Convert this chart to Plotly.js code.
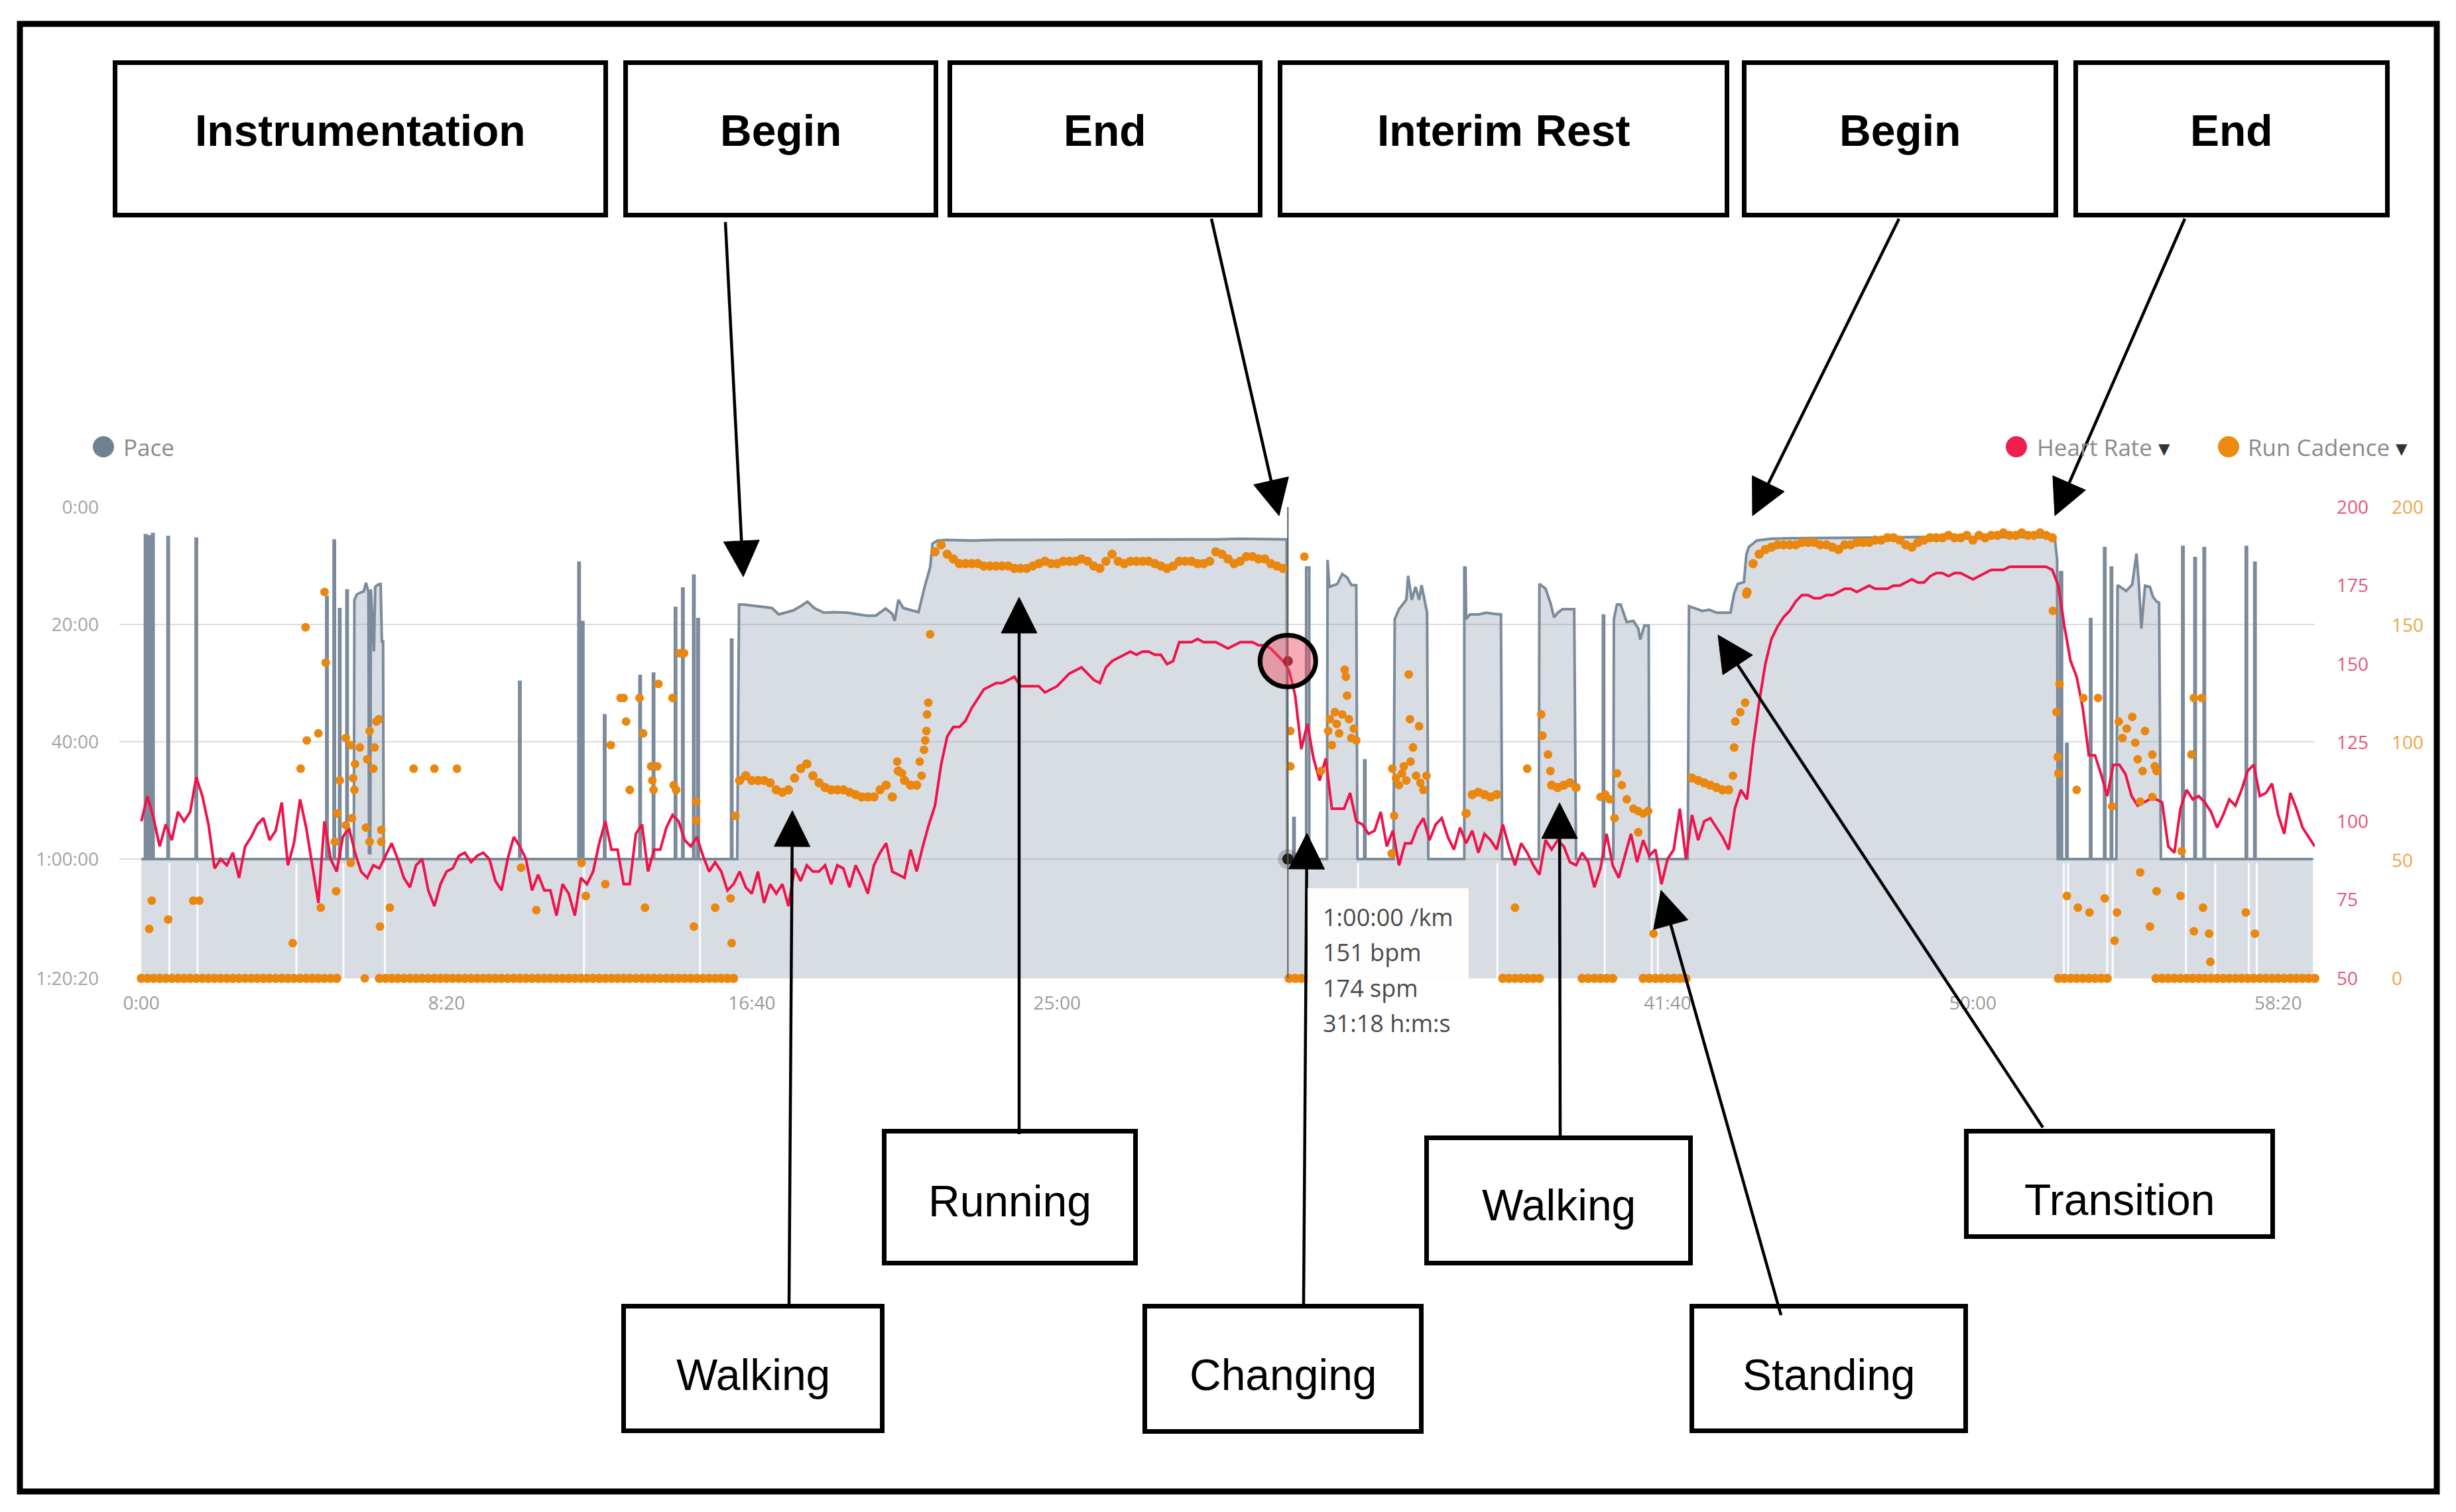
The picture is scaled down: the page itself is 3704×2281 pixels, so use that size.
<!DOCTYPE html>
<html><head><meta charset="utf-8">
<script src="https://cdn.plot.ly/plotly-3.0.1.min.js"></script>
<style>html,body{margin:0;padding:0;background:#fff}#chart{width:3704px;height:2281px}</style>
</head><body><div id="chart"></div>
<script>
// ---------------- DATA ----------------
// Heart rate (bpm), one sample every 10 s from 0:00
const hrStepSec = 10;
const hrBpm = [
100,108,101,92,99,94,103,100,103,114,108,99,85,88,86,90,82,92,95,99,101,94,97,106,86,93,107,98,86,74,
100,88,84,95,98,90,84,82,86,85,89,93,88,82,79,86,88,78,73,80,84,85,89,90,87,89,90,88,81,78,
88,95,92,88,78,83,78,78,70,80,77,70,82,80,84,93,100,91,91,80,80,96,99,84,91,91,98,102,100,94,
92,95,89,84,87,84,78,80,84,79,77,84,74,80,77,80,73,85,81,86,84,84,86,80,86,85,79,86,82,77,
86,90,93,84,83,82,91,84,92,99,105,118,127,130,130,132,136,139,142,143,144,144,145,146,143,143,143,143,141,142,
143,145,147,148,149,147,145,144,149,151,152,153,154,153,154,154,153,153,150,151,157,157,157,158,157,157,157,156,155,156,
157,157,157,156,156,155,153,151,148,140,123,131,120,113,120,104,104,104,109,100,99,96,97,103,92,97,86,93,93,98,
101,94,99,101,95,91,98,93,97,90,96,94,91,99,92,86,93,90,86,83,94,91,94,92,87,86,90,87,79,85,
96,86,82,89,96,87,94,89,91,80,88,91,104,88,102,94,100,101,98,95,91,104,110,107,124,138,150,158,162,165,
167,170,172,172,171,171,172,172,173,174,174,173,174,175,174,174,174,175,175,176,177,176,176,178,179,179,178,179,179,178,
177,178,179,180,180,180,181,181,181,181,181,181,181,180,175,162,151,146,136,121,121,115,108,118,118,115,108,105,106,107,
107,106,92,90,104,110,107,108,106,103,98,102,107,105,110,116,118,108,109,112,102,96,109,104,98,95,92
];
// Run cadence (spm), one sample every 10 s (null = no reading)
const cadStepSec = 10;
const cadSpm = [
0,0,0,0,0,0,0,0,0,0,0,0,0,0,0,0,0,0,0,0,0,0,0,0,0,0,0,0,0,0,
0,0,0,null,null,null,null,null,null,0,0,0,0,0,0,0,0,0,0,0,0,0,0,0,0,0,0,0,0,0,
0,0,0,0,0,0,0,0,0,0,0,0,0,0,0,0,0,0,0,0,0,0,0,0,0,0,0,0,0,0,
0,0,0,0,0,0,0,0,84,86,84,84,84,83,80,79,80,85,89,91,86,83,81,80,80,80,79,78,77,77,
77,80,82,77,88,84,82,82,null,null,181,184,180,178,176,176,176,176,175,175,175,175,175,174,174,174,175,176,177,176,
176,177,177,177,178,177,175,174,177,180,177,176,177,177,177,177,176,175,174,175,177,177,177,176,176,177,181,180,178,176,
177,179,179,178,178,176,175,174,0,0,0,0,null,null,null,null,null,null,null,null,null,null,null,null,null,null,null,null,null,null,
null,null,null,null,null,null,null,70,78,79,78,77,78,0,0,0,0,0,0,0,null,82,81,82,83,81,0,0,0,0,
0,0,null,null,null,null,0,0,0,0,0,0,0,0,85,84,83,82,81,80,80,null,null,164,176,180,182,183,184,184,
184,184,185,185,185,184,184,183,182,184,184,185,185,185,186,186,187,187,186,184,183,185,186,187,187,187,188,187,187,188,
186,188,187,188,188,189,188,188,189,188,188,189,188,187,0,0,0,0,0,0,0,0,0,null,null,null,null,null,null,null,
0,0,0,0,0,0,0,0,0,0,0,0,0,0,0,0,0,0,0,0,0,0,0,0,0,0,0
];
// Scattered cadence readings (time s, spm)
const cadScatT = [13,17,44,85,95,248,261,269,271,290,294,300,302,317,319,321,325,335,335,343,343,345,347,349,350,358,366,368,370,374,374,380,382,385,389,391,393,393,407,446,480,517,
622,647,721,728,760,769,785,790,794,800,816,822,825,835,837,839,845,847,870,872,876,882,889,905,909,909,940,965,967,973,
1238,1246,1275,1278,1282,1284,1286,1287,1289,1292,
1882,1882,1905,1932,1944,1947,1950,1955,1958,1962,1967,1971,1973,1975,1978,1982,1986,1990,2048,2049,2052,2055,2060,2065,2068,2072,2076,2078,2079,2083,2088,2093,2095,2100,2105,2250,2270,2293,2295,2304,2308,
2390,2398,2405,2413,2417,2425,2433,2444,2452,2452,2460,2468,2477,2607,2609,2611,2619,2627,2629,
3131,3137,3139,3140,3142,3154,3170,3172,3181,3191,3205,3216,3228,3232,3236,3239,3245,3252,3261,3266,3270,3274,3274,3278,3282,3290,3294,3294,3298,3301,3301,3340,3342,3358,3362,3362,3375,3377,3387,3389,3447,3462];
const cadScatV = [21,33,25,33,33,15,89,149,101,104,30,164,134,58,37,70,84,102,65,99,49,68,85,80,91,98,0,64,93,105,58,89,98,109,110,22,63,58,30,89,89,89,
47,29,49,35,40,99,119,119,109,80,119,104,30,90,84,80,90,125,119,82,80,138,138,22,75,67,30,34,15,69,
92,87,92,86,97,101,105,112,117,146,
105,90,179,88,105,110,99,113,108,104,112,131,128,120,110,102,106,101,53,89,69,85,82,87,90,84,129,110,92,98,86,107,83,80,86,30,89,112,103,95,88,
77,78,76,68,87,82,76,72,71,62,70,71,19,86,98,109,113,117,163,
156,113,94,87,125,35,80,30,119,28,119,34,73,16,28,109,102,106,111,100,93,75,45,88,105,22,95,77,90,88,37,35,54,95,20,119,119,30,19,7,28,19];
// Pace (time s, min/km); 60 = stopped
const paceT = [0,6,6,8,8,10,10,12,12,14,14,16,16,18,18,20,20,43,43,45,45,89,89,91,91,
303,303,305,305,315,315,317,317,324,324,326,326,336,336,338,338,
348,349,353,358,364,368,372,373,375,376,381,383,388,392,394,396,397,
619,619,621,621,716,716,718,718,722,722,724,724,758,758,760,760,816,816,818,818,838,838,840,840,
874,874,876,876,886,886,888,888,904,904,906,906,911,911,913,913,966,966,968,968,
976,979,986,1000,1010,1020,1033,1044,1056,1068,1080,1091,1102,1118,1135,1157,1175,1188,1203,1219,1230,1234,1240,1248,1262,1273,1283,1292,1296,1304,
1320,1360,1400,1440,1480,1520,1560,1600,1640,1680,1720,1760,1800,1840,1876,1877,
1887,1887,1889,1889,1908,1908,1913,1913,
1942,1943,1946,1959,1967,1975,1982,1990,1992,2003,2003,2005,2005,
2051,2053,2060,2072,2075,2081,2087,2093,2097,2106,2108,
2167,2167,2169,2170,2176,2190,2203,2215,2227,2229,
2289,2290,2300,2308,2314,2320,2328,2347,2350,2394,2394,2396,2396,
2411,2412,2417,2423,2433,2444,2452,2455,2462,2469,2470,
2533,2535,2545,2557,2568,2580,2603,2609,2615,2625,2629,2633,2646,2669,2700,2750,2800,2850,2900,2950,3000,3050,3100,3134,3138,3139,
3143,3143,3146,3146,3153,3153,3155,3155,3192,3192,3194,3194,3215,3215,3217,3217,3226,3226,3228,3228,
3235,3237,3251,3261,3268,3272,3276,3282,3290,3295,3301,3305,3308,
3343,3343,3345,3345,3363,3363,3365,3365,3378,3378,3380,3380,3447,3447,3449,3449,3461,3461,3463,3463,3557];
const paceV = [60,60,4.8,4.8,60,60,5.0,5.0,60,60,5.0,5.0,60,60,4.6,4.6,60,60,5.1,5.1,60,60,5.4,5.4,60,
60,15.3,15.3,60,60,5.7,5.7,60,60,17.4,17.4,60,60,14.2,14.2,60,
60,15.8,14.9,14.6,14.4,12.9,14.5,59,59,14.0,24.6,13.6,13.2,13.1,22.9,22.9,60,
60,29.8,29.8,60,60,9.5,9.5,60,60,19.6,19.6,60,60,35.5,35.5,60,60,28.8,28.8,60,60,28.4,28.4,60,
60,17.2,17.2,60,60,13.9,13.9,60,60,11.7,11.7,60,60,19.1,19.1,60,60,22.6,22.6,60,
60,16.6,16.6,16.8,16.9,17.0,17.2,18.3,17.9,17.6,16.9,16.1,17.2,18.0,17.9,18.0,18.3,18.5,18.5,17.3,18.2,19.4,15.8,17.2,17.6,17.9,13.6,10.3,6.2,5.7,
5.6,5.7,5.6,5.6,5.5,5.6,5.6,5.5,5.6,5.6,5.5,5.5,5.4,5.5,5.5,60,
60,53,53,60,60,10.3,10.3,60,
60,9.0,13.6,13.1,11.4,12.0,13.3,13.3,60,60,43.2,43.2,60,
60,19.1,17.4,15.8,11.7,15.8,13.6,15.8,13.3,18.0,60,
60,10.3,10.3,19.1,18.3,18.3,18.0,18.2,18.3,60,
60,13.1,13.9,16.3,18.8,18.0,17.4,17.4,60,60,18.5,18.5,60,
60,19.1,16.6,16.6,19.6,19.4,20.7,22.6,20.2,20.2,60,
60,16.9,17.3,17.7,17.5,18.0,18.0,14.7,13.1,12.8,8.1,6.8,5.7,5.4,5.3,5.3,5.2,5.2,5.1,5.1,5.0,5.0,5.0,5.1,9,60,
60,11.1,11.1,60,60,40.4,40.4,60,60,19.1,19.1,60,60,7.0,7.0,60,60,10.3,10.3,60,
60,13.3,14.3,13.2,7.9,13.3,20.7,13.4,13.6,15.3,16.1,16.3,60,
60,6.8,6.8,60,60,8.7,8.7,60,60,7.0,7.0,60,60,6.8,6.8,60,60,9.5,9.5,60,60];
// Gaps in the pace record (time s)
const gapT = [46,92,254,331,399,725,915,1993,2221,2397,2474,2484,3149,3156,3220,3229,3349,3397,3452,3465];
const paceFloor = 80.333;
// Hovered sample
const hoverT = 1878, hoverPace = 60, hoverHr = 151, hoverCad = 174;
const hoverLines = ['1:00:00 /km', '151 bpm', '174 spm', '31:18 h:m:s'];
// Axes (the 33:20 label sits under the tooltip, so it is not shown)
const xTickVals = [0,500,1000,1500,2500,3000,3500];
const xTickText = ['0:00','8:20','16:40','25:00','41:40','50:00','58:20'];
const paceTickVals = [0,20,40,60,80.333];
const paceTickText = ['0:00','20:00','40:00','1:00:00','1:20:20'];
const hrTickVals = [50,75,100,125,150,175,200];
const cadTickVals = [0,50,100,150,200];
// Annotation labels
const topLabels = ['Instrumentation','Begin','End','Interim Rest','Begin','End'];
const bottomLabels = ['Walking','Running','Changing','Walking','Standing','Transition'];
const legendLabels = ['Pace','Heart Rate','Run Cadence'];

// ---------------- LAYOUT GEOMETRY (pixels) ----------------
const PL = 180, PR = 3600, PT = 765, PB = 1476;
const px = X => (X - PL) / (PR - PL);
const py = Y => (PB - Y) / (PB - PT);
const topBoxes = [[170,91,917,328],[940,91,1415,328],[1429,91,1904,328],[1927,91,2608,328],[2627,91,3104,328],[3127,91,3604,328]];
const topTextY = 197;
const bottomBoxes = [[937,1967,1334,2162],[1330,1703,1716,1909],[1723,1967,2147,2163],[2148,1713,2553,1909],[2548,1967,2968,2162],[2962,1703,3431,1869]];
const bottomTextY = [2074,1812,2074,1818,2074,1810];
const arrowsPx = [[1094,335,1121,870],[1827,330,1929,778],[2864,330,2643,778],[3295,330,3099,778],
  [1190,1967,1195,1223],[1537,1711,1537,901],[1966,1967,1971,1257],[2353,1713,2352,1211],[2686,1984,2505,1343],[3081,1701,2591,958]];

const shapes = [], annotations = [];
const BW = 7;
function box(b){
  shapes.push({type:'rect', xref:'paper', yref:'paper', x0:px(b[0]+BW/2), x1:px(b[2]-BW/2), y0:py(b[1]+BW/2), y1:py(b[3]-BW/2),
    line:{color:'#000', width:BW}, fillcolor:'#fff', layer:'above'});
}
function label(text, X, Y, bold){
  annotations.push({text: bold ? '<b>'+text+'</b>' : text, xref:'paper', yref:'paper', x:px(X), y:py(Y), showarrow:false,
    xanchor:'center', yanchor:'middle', font:{family:'Liberation Sans, Arial, sans-serif', size:66, color:'#000'}});
}
function arrow(a){
  const [x0,y0,x1,y1] = a;
  const dx=x1-x0, dy=y1-y0, len=Math.hypot(dx,dy), ux=dx/len, uy=dy/len;
  const hl=54, hw=27;
  const bx=x1-ux*hl, by=y1-uy*hl;
  const c1x=bx-uy*hw, c1y=by+ux*hw, c2x=bx+uy*hw, c2y=by-ux*hw;
  shapes.push({type:'line', xref:'paper', yref:'paper', x0:px(x0), y0:py(y0), x1:px(bx), y1:py(by), line:{color:'#000', width:4.5}, layer:'above'});
  shapes.push({type:'path', xref:'paper', yref:'paper', path:'M'+px(x1)+','+py(y1)+' L'+px(c1x)+','+py(c1y)+' L'+px(c2x)+','+py(c2y)+' Z',
    fillcolor:'#000', line:{color:'#000', width:1}, layer:'above'});
}
// outer frame
shapes.push({type:'rect', xref:'paper', yref:'paper', x0:px(30), x1:px(3675), y0:py(36), y1:py(2250), line:{color:'#000', width:9}, fillcolor:'rgba(0,0,0,0)', layer:'above'});
// crosshair
shapes.push({type:'line', xref:'x', yref:'paper', x0:hoverT, x1:hoverT, y0:0, y1:1, line:{color:'#5a5a5a', width:2}, layer:'above'});
// highlight ring around hovered heart-rate point
shapes.push({type:'circle', xref:'x', yref:'y2', xsizemode:'pixel', ysizemode:'pixel', xanchor:hoverT, yanchor:hoverHr,
  x0:-42, x1:42, y0:-39, y1:39, line:{color:'#000', width:7}, fillcolor:'rgba(240,70,95,0.45)', layer:'above'});
topBoxes.forEach((b,i)=>{ box(b); label(topLabels[i], (b[0]+b[2])/2, topTextY, true); });
bottomBoxes.forEach((b,i)=>{ box(b); label(bottomLabels[i], (b[0]+b[2])/2, bottomTextY[i], false); });
arrowsPx.forEach(arrow);
// tooltip
shapes.push({type:'rect', xref:'paper', yref:'paper', x0:px(1972), x1:px(2215), y0:py(1340), y1:py(1578), line:{width:0}, fillcolor:'rgba(255,255,255,0.93)', layer:'above'});
hoverLines.forEach((t,i)=>{
  annotations.push({text:t, xref:'paper', yref:'paper', x:px(1993), y:py(1383+i*53.5), xanchor:'left', yanchor:'middle', showarrow:false,
    font:{family:'Open Sans, sans-serif', size:36, color:'#4a4a4a'}});
});
// legend markers
const legendItems = [[156,'#6f8294',184],[3041,'#ee1f4f',3070],[3361,'#ee8a12',3388]];
legendItems.forEach((l,i)=>{
  shapes.push({type:'circle', xref:'paper', yref:'paper', x0:px(l[0]-16), x1:px(l[0]+16), y0:py(674+16), y1:py(674-16), line:{width:0}, fillcolor:l[1], layer:'above'});
  annotations.push({text: legendLabels[i] + (i>0 ? ' <span style="color:#333">▾</span>' : ''), xref:'paper', yref:'paper', x:px(l[2]), y:py(674),
    xanchor:'left', yanchor:'middle', showarrow:false, font:{family:'Open Sans, sans-serif', size:35, color:'#8a8a8a'}});
});

// ---------------- TRACES ----------------
const hrX = hrBpm.map((_,i)=>i*hrStepSec);
const cadX = cadSpm.map((_,i)=>i*cadStepSec);
const gapX = [], gapY = [];
gapT.forEach(t=>{ gapX.push(t,t,null); gapY.push(60.7,paceFloor,null); });

const data = [
  {x:[paceT[0], paceT[paceT.length-1]], y:[paceFloor,paceFloor], mode:'lines', line:{width:0}, hoverinfo:'skip', yaxis:'y'},
  {x:paceT, y:paceV, mode:'lines', fill:'tonexty', fillcolor:'rgba(125,142,165,0.30)', line:{color:'#7b8b9b', width:4}, yaxis:'y'},
  {x:gapX, y:gapY, mode:'lines', line:{color:'rgba(255,255,255,0.9)', width:3}, yaxis:'y'},
  {x:cadX, y:cadSpm, mode:'markers', marker:{color:'#ea870f', size:14}, yaxis:'y3', cliponaxis:false},
  {x:cadScatT, y:cadScatV, mode:'markers', marker:{color:'#ea870f', size:13}, yaxis:'y3', cliponaxis:false},
  {x:hrX, y:hrBpm, mode:'lines', line:{color:'#ee1449', width:4}, yaxis:'y2'},
  {x:[hoverT], y:[hoverPace], mode:'markers', marker:{color:'rgba(0,0,0,0.18)', size:30}, yaxis:'y'},
  {x:[hoverT], y:[hoverPace], mode:'markers', marker:{color:'#1e1e1e', size:17}, yaxis:'y'},
  {x:[hoverT], y:[hoverHr], mode:'markers', marker:{color:'#6e0c16', size:15}, yaxis:'y2'}
];

const tickFont = c => ({family:'Open Sans, sans-serif', size:28, color:c});
const layout = {
  width:3704, height:2281, showlegend:false, hovermode:false,
  paper_bgcolor:'#fff', plot_bgcolor:'#fff',
  margin:{l:PL, r:3704-PR, t:PT, b:2281-PB, pad:0},
  xaxis:{domain:[0,(3491-PL)/(PR-PL)], range:[-36,3560], tickvals:xTickVals, ticktext:xTickText, showgrid:false, zeroline:false,
    showline:false, ticks:'', tickfont:tickFont('#9a9a9a'), ticklabelstandoff:18},
  yaxis:{range:[paceFloor,0], tickvals:paceTickVals, ticktext:paceTickText, showgrid:true, gridcolor:'#dcdcdc', gridwidth:2,
    zeroline:false, showline:false, ticks:'', tickfont:tickFont('#a3a3a3'), ticklabelstandoff:30},
  yaxis2:{overlaying:'y', side:'right', anchor:'x', range:[50,200], tickvals:hrTickVals, showgrid:false, zeroline:false,
    showline:false, ticks:'', tickfont:tickFont('#e6557c'), ticklabelstandoff:32},
  yaxis3:{overlaying:'y', side:'right', anchor:'free', position:1, range:[0,200], tickvals:cadTickVals, showgrid:false, zeroline:false,
    showline:false, ticks:'', tickfont:tickFont('#f0a445'), ticklabelstandoff:6},
  shapes:shapes, annotations:annotations
};
Plotly.newPlot('chart', data, layout, {staticPlot:true, displayModeBar:false});
</script></body></html>
